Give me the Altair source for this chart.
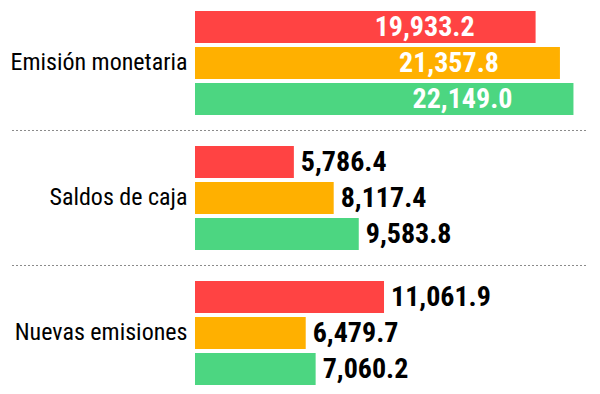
import altair as alt
import pandas as pd

categories = ["Emisión monetaria", "Saldos de caja", "Nuevas emisiones"]
series = ["Serie 1", "Serie 2", "Serie 3"]
emision_monetaria = [19933.2, 21357.8, 22149.0]
saldos_de_caja = [5786.4, 8117.4, 9583.8]
nuevas_emisiones = [11061.9, 6479.7, 7060.2]
colors = ["#FF4343", "#FFB000", "#4CD681"]
separators = ["Saldos de caja", "Nuevas emisiones"]

rows = []
for cat, vals in zip(categories, [emision_monetaria, saldos_de_caja, nuevas_emisiones]):
    for s, v in zip(series, vals):
        rows.append({"cat": cat, "serie": s, "value": v, "inside": cat == categories[0]})
df = pd.DataFrame(rows)
sep_df = pd.DataFrame({"cat": separators})

FONT = "Roboto Condensed"
W, H = 393, 374

yscale = alt.Scale(domain=categories, paddingInner=0.2296, paddingOuter=0)
y_enc = alt.Y("cat:N", scale=yscale, sort=categories, title=None)
yoff = alt.YOffset("serie:N", scale=alt.Scale(domain=series, paddingInner=0.111, paddingOuter=0))
x_enc = alt.X("value:Q", scale=alt.Scale(domain=[0, 23000], nice=False), axis=None)

bars = alt.Chart(df).mark_bar().encode(
    x=x_enc,
    y=y_enc,
    yOffset=yoff,
    color=alt.Color("serie:N", scale=alt.Scale(domain=series, range=colors), legend=None),
)

inside = alt.Chart(df).transform_filter("datum.inside").mark_text(
    align="right", baseline="middle", dx=-61, dy=1, color="white",
    font=FONT, fontSize=28, fontWeight="bold",
).encode(x=x_enc, y=y_enc, yOffset=yoff, text=alt.Text("value:Q", format=",.1f"))

outside = alt.Chart(df).transform_filter("!datum.inside").mark_text(
    align="left", baseline="middle", dx=7, dy=1, color="black",
    font=FONT, fontSize=28, fontWeight="bold",
).encode(x=x_enc, y=y_enc, yOffset=yoff, text=alt.Text("value:Q", format=",.1f"))

rules = alt.Chart(sep_df).mark_rule(
    strokeDash=[2, 2], color="#8a8a8a", strokeWidth=1, yOffset=-15.5,
).encode(
    y=alt.Y("cat:N", scale=yscale, sort=categories, bandPosition=0, title=None),
    x=alt.value(-183),
    x2=alt.value(W),
)

chart = alt.layer(rules, bars, inside, outside).properties(
    width=W, height=H,
    autosize=alt.AutoSizeParams(type="none"),
    padding={"left": 187, "top": 3, "right": 0, "bottom": 0},
).configure_view(stroke=None).configure_axisY(
    domain=False, ticks=False, grid=False,
    labelFont=FONT, labelFontSize=24, labelColor="black",
    labelPadding=8, labelLimit=0,
)

chart.save("out.html", embed_options={"renderer": "svg", "actions": False})
